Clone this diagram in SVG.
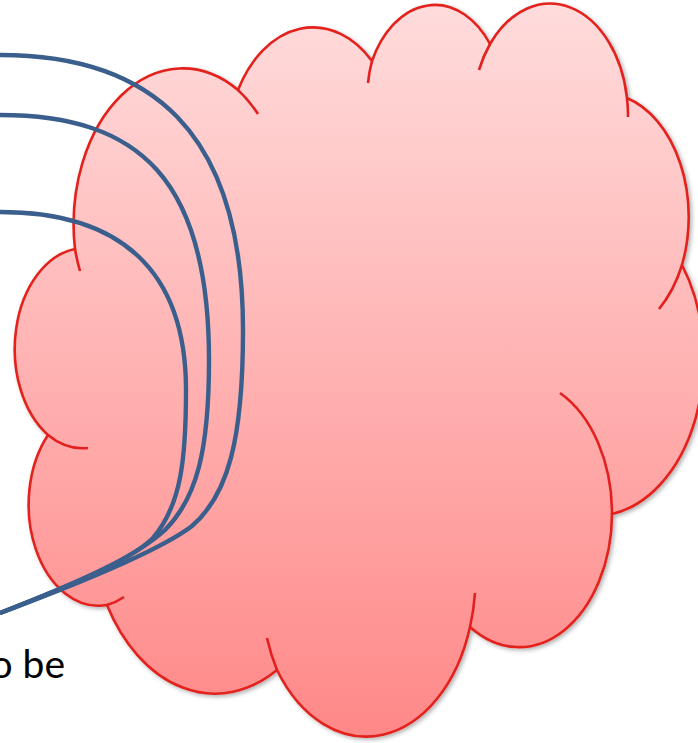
<svg xmlns="http://www.w3.org/2000/svg" width="698" height="743" viewBox="0 0 698 743">
  <defs>
    <linearGradient id="cloudFill" x1="0" y1="0" x2="0" y2="1">
      <stop offset="0" stop-color="#FFDCDC"/>
      <stop offset="1" stop-color="#FF8888"/>
    </linearGradient>
    <filter id="shadow" x="-10%" y="-10%" width="120%" height="120%">
      <feDropShadow dx="2" dy="2" stdDeviation="2" flood-color="#000" flood-opacity="0.3"/>
    </filter>
  </defs>
  <style>
    .outline { stroke: #E3201F; stroke-width: 2.6; }
    .tail { fill: none; stroke: #E3201F; stroke-width: 2.6; }
    .wire { fill: none; stroke: #3A5F8D; stroke-width: 4.4; stroke-linecap: butt; }
    .label { font-family: Lato, "Liberation Sans", sans-serif; font-size: 39px; fill: #000; }
  </style>

  <g id="cloud">
    <path class="outline" fill="url(#cloudFill)" filter="url(#shadow)" d="M75,249 A109,156 0 0,1 238,90 A86,123 0 0,1 372,61 A70,101 0 0,1 490,44 A78,112 0 0,1 627,98 A86,124 0 0,1 682,265 A109,157 0 0,1 612,514 A93,134 0 0,1 470,627 A109,157 0 0,1 277,670 A125,179 0 0,1 107,605 A70,101 0 0,1 48,435 A70,101 0 0,1 75,249 Z"/>
    <path class="tail" d="M75,249 A109,156 0 0,0 80,271 M238,90 A109,156 0 0,1 258,114 M372,61 A70,101 0 0,0 368,83 M490,44 A78,112 0 0,0 479,70 M627,98 A78,112 0 0,1 628,117 M682,265 A86,124 0 0,1 659,309 M612,514 A93,134 0 0,0 560,393 M470,627 A109,157 0 0,0 475,593 M277,670 A109,157 0 0,1 267,638 M107,605 A70,101 0 0,0 124,597 M48,435 A70,101 0 0,0 88,448"/>
  </g>

  <g id="connectors">
    <path class="wire" d="M0,55 C150,55 243,130 243,330 C243,440 228,495 192,526 C158,552 75,585 0,613"/>
    <path class="wire" d="M0,115 C140,115 209,180 209,360 C209,450 197,498 165,530 C135,558 72,585 0,613"/>
    <path class="wire" d="M0,212 C120,212 186,270 186,390 C186,460 181,505 153,538 C128,562 72,585 0,613"/>
  </g>

  <g id="label">
    <text class="label" x="65" y="678" text-anchor="end">o be</text>
  </g>
</svg>
